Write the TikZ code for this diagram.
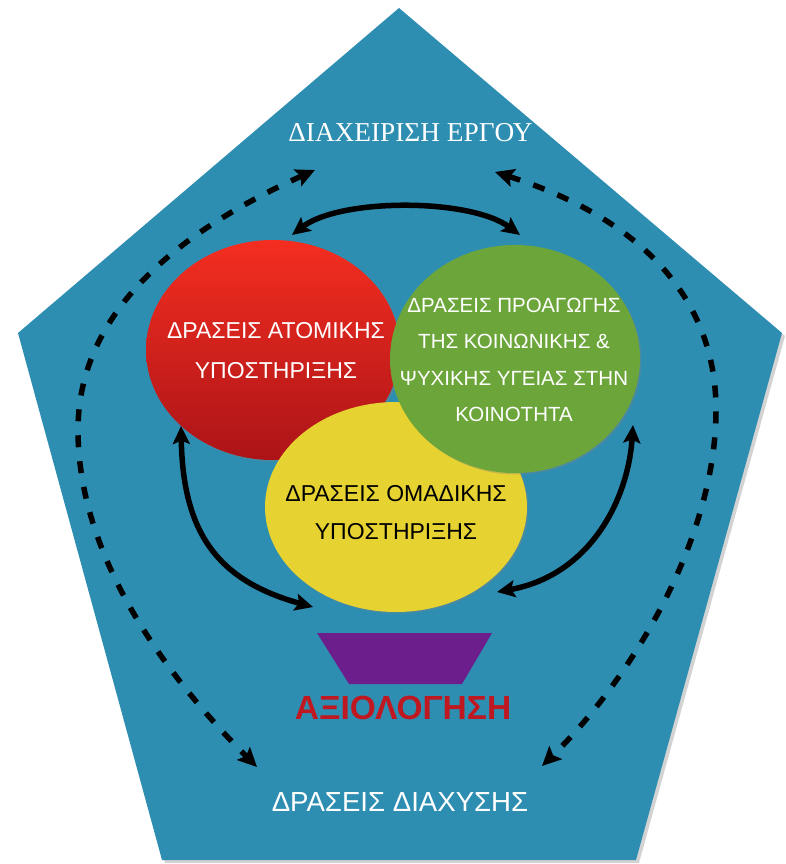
\documentclass[tikz,border=0pt]{standalone}
\usepackage{fontspec}
\newfontfamily\lsans{Liberation Sans}
\newfontfamily\lserif{Liberation Serif}
\usetikzlibrary{shapes.geometric,arrows.meta,shadows}
\definecolor{bgblue}{RGB}{46,142,178}
\definecolor{redtop}{RGB}{244,46,32}
\definecolor{redbot}{RGB}{172,20,24}
\definecolor{grn}{RGB}{108,166,58}
\definecolor{yel}{RGB}{230,210,48}
\definecolor{purp}{RGB}{108,30,140}
\definecolor{evalred}{RGB}{192,24,32}
\begin{document}
\begin{tikzpicture}[x=1pt,y=-1pt,
  circ/.style={ellipse, inner sep=0pt, draw=none,
    drop shadow={shadow xshift=1.5pt,shadow yshift=-1.5pt,opacity=0.35}},
  circtext/.style={align=center, inner sep=0pt},
  tipS/.tip={Stealth[length=18pt,width=17pt,inset=3.5pt]},
  tipD/.tip={Stealth[length=19pt,width=18pt,inset=3.5pt]},
  solidarrow/.style={line width=5.5pt, draw=black, tipS-tipS},
  dasharrow/.style={line width=5.5pt, draw=black, dash pattern=on 12pt off 14pt, tipD-tipD},
  lbl/.style={inner sep=0pt, text=white}
]
\useasboundingbox (0,0) rectangle (786,864);
% pentagon
\fill[black!50, opacity=0.35] (401,11) -- (785,336) -- (639,863) -- (165,863) -- (21,336) -- cycle;
\fill[bgblue] (399,8) -- (782,333) -- (636,860) -- (162,860) -- (18,333) -- cycle;

% circles
\node[circ, minimum width=254pt, minimum height=220pt, top color=redtop, bottom color=redbot] (red) at (273,350) {};
\node[circ, minimum width=262pt, minimum height=210pt, fill=yel] (yellow) at (396,507) {};
\node[circ, minimum width=250pt, minimum height=228pt, fill=grn] (green) at (515,359) {};

\node[circtext, text=white, font=\lsans\fontsize{23}{40}\selectfont] (redlbl) at (276,351)
  {ΔΡΑΣΕΙΣ ΑΤΟΜΙΚΗΣ\\ΥΠΟΣΤΗΡΙΞΗΣ};
\node[circtext, text=white, font=\lsans\fontsize{20.5}{36.2}\selectfont] (grnlbl) at (514,360)
  {ΔΡΑΣΕΙΣ ΠΡΟΑΓΩΓΗΣ\\ΤΗΣ ΚΟΙΝΩΝΙΚΗΣ \&\\ΨΥΧΙΚΗΣ ΥΓΕΙΑΣ ΣΤΗΝ\\ΚΟΙΝΟΤΗΤΑ};
\node[circtext, text=black, font=\lsans\fontsize{23}{38}\selectfont] (yellbl) at (396,512.5)
  {ΔΡΑΣΕΙΣ ΟΜΑΔΙΚΗΣ\\ΥΠΟΣΤΗΡΙΞΗΣ};

% evaluation
\fill[purp] (317,633) -- (492,633) -- (462,684) -- (349,684) -- cycle;
\node[inner sep=0pt, text=evalred, font=\lsans\bfseries\fontsize{33.5}{36}\selectfont] (eval) at (403,707.5) {ΑΞΙΟΛΟΓΗΣΗ};

% labels
\node[lbl, font=\lserif\fontsize{27.3}{30}\selectfont] (mgmt) at (410.5,133) {ΔΙΑΧΕΙΡΙΣΗ ΕΡΓΟΥ};
\node[lbl, font=\lsans\fontsize{27.6}{30}\selectfont] (diss) at (400,801.7) {ΔΡΑΣΕΙΣ ΔΙΑΧΥΣΗΣ};

% arrow end points
\coordinate (tl) at (292,235);
\coordinate (tr) at (520,235);
\coordinate (la) at (181,426);
\coordinate (lb) at (313,607);
\coordinate (ra) at (633,425);
\coordinate (rb) at (497,592);
\coordinate (dla) at (315,170);
\coordinate (dlm) at (78,430);
\coordinate (dlb) at (257,767);
\coordinate (dra) at (495,172);
\coordinate (drm) at (716,410);
\coordinate (drb) at (542,766);

% solid arrows
\draw[solidarrow] (tl) .. controls (340,198) and (470,198) .. (tr);
\draw[solidarrow] (la) .. controls (183,530) and (215,580) .. (lb);
\draw[solidarrow] (ra) .. controls (628,500) and (590,575) .. (rb);

% dashed arrows
\draw[dasharrow] (dla) .. controls (200,222) and (78,300) .. (dlm) .. controls (78,560) and (170,680) .. (dlb);
\draw[dasharrow] (dra) .. controls (630,215) and (716,290) .. (drm) .. controls (716,540) and (630,680) .. (drb);
\end{tikzpicture}
\end{document}
